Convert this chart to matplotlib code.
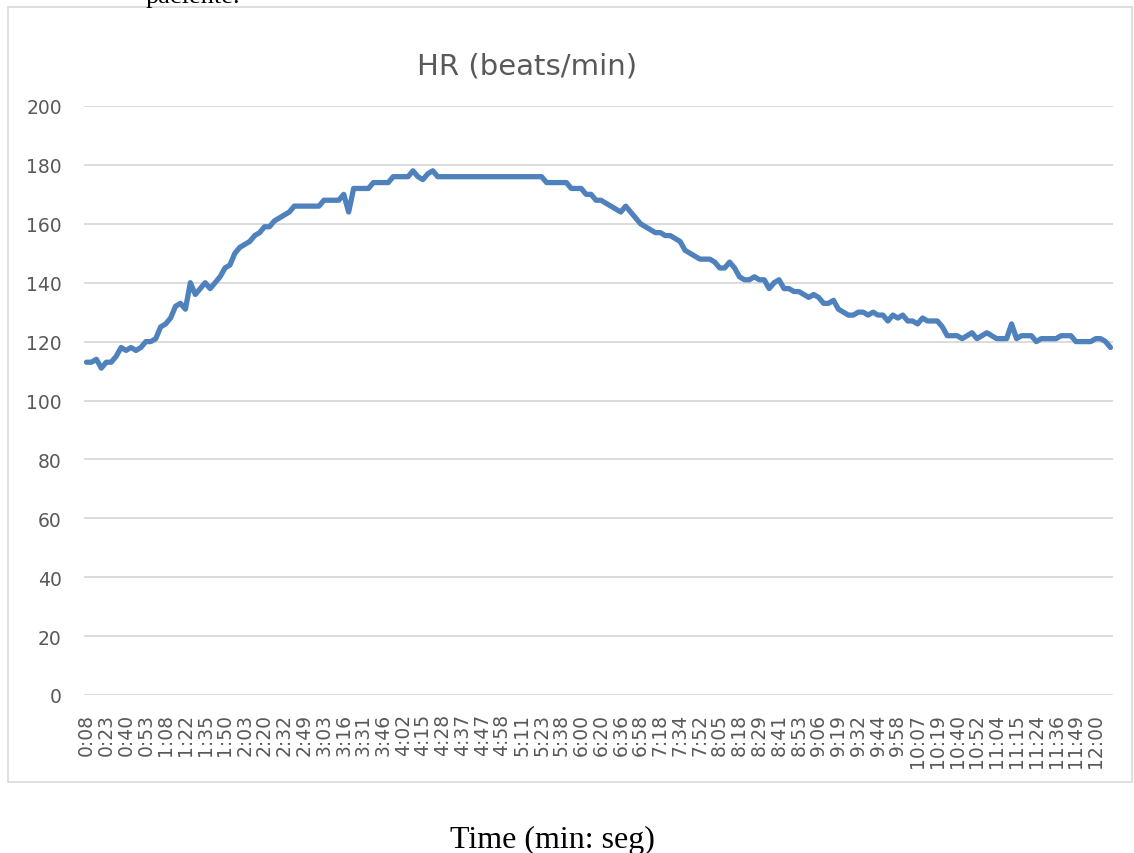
import matplotlib
matplotlib.use('Agg')
import matplotlib.pyplot as plt
from matplotlib.patches import Rectangle

# heart rate, one value per sample
hr_values = [
    113, 113, 114, 111, 113, 113, 115, 118, 117, 118, 117, 118,
    120, 120, 121, 125, 126, 128, 132, 133, 131, 140, 136, 138,
    140, 138, 140, 142, 145, 146, 150, 152, 153, 154, 156, 157,
    159, 159, 161, 162, 163, 164, 166, 166, 166, 166, 166, 166,
    168, 168, 168, 168, 170, 164, 172, 172, 172, 172, 174, 174,
    174, 174, 176, 176, 176, 176, 178, 176, 175, 177, 178, 176,
    176, 176, 176, 176, 176, 176, 176, 176, 176, 176, 176, 176,
    176, 176, 176, 176, 176, 176, 176, 176, 176, 174, 174, 174,
    174, 174, 172, 172, 172, 170, 170, 168, 168, 167, 166, 165,
    164, 166, 164, 162, 160, 159, 158, 157, 157, 156, 156, 155,
    154, 151, 150, 149, 148, 148, 148, 147, 145, 145, 147, 145,
    142, 141, 141, 142, 141, 141, 138, 140, 141, 138, 138, 137,
    137, 136, 135, 136, 135, 133, 133, 134, 131, 130, 129, 129,
    130, 130, 129, 130, 129, 129, 127, 129, 128, 129, 127, 127,
    126, 128, 127, 127, 127, 125, 122, 122, 122, 121, 122, 123,
    121, 122, 123, 122, 121, 121, 121, 126, 121, 122, 122, 122,
    120, 121, 121, 121, 121, 122, 122, 122, 120, 120, 120, 120,
    121, 121, 120, 118,
]

# every 4th sample carries a visible label
time_labels = [
    '0:08', '0:23', '0:40', '0:53', '1:08', '1:22', '1:35', '1:50',
    '2:03', '2:20', '2:32', '2:49', '3:03', '3:16', '3:31', '3:46',
    '4:02', '4:15', '4:28', '4:37', '4:47', '4:58', '5:11', '5:23',
    '5:38', '6:00', '6:20', '6:36', '6:58', '7:18', '7:34', '7:52',
    '8:05', '8:18', '8:29', '8:41', '8:53', '9:06', '9:19', '9:32',
    '9:44', '9:58', '10:07', '10:19', '10:40', '10:52', '11:04', '11:15',
    '11:24', '11:36', '11:49', '12:00',
]
label_step = 4
y_ticks = [0, 20, 40, 60, 80, 100, 120, 140, 160, 180, 200]

W, H = 1134, 854
fig = plt.figure(figsize=(W / 100, H / 100), dpi=100)
fig.patch.set_facecolor('white')

# chart frame
fig.patches.append(Rectangle((8 / W, 1 - 783 / H), 1124 / W, 775 / H,
                             transform=fig.transFigure, fill=False,
                             edgecolor='#d9d9d9', linewidth=1.2))

ax = fig.add_axes([84 / W, 1 - 696 / H, (1113 - 84) / W, (696 - 107) / H])

x = list(range(len(hr_values)))
ax.plot(x, hr_values, color='#4f81bd', linewidth=3.8, solid_joinstyle='round',
        solid_capstyle='round', zorder=3)

ax.set_xlim(-0.5, len(hr_values) - 0.5)
ax.set_ylim(0, 200)
ax.set_yticks(y_ticks)
ax.set_xticks(x[::label_step][:len(time_labels)])
ax.set_xticklabels(time_labels, rotation=90)

ax.grid(axis='y', color='#d9d9d9', linewidth=1.3)
ax.set_axisbelow(True)
for s in ax.spines.values():
    s.set_visible(False)
ax.tick_params(axis='both', length=0, colors='#595959', labelsize=13.5)
ax.tick_params(axis='y', pad=16)
ax.tick_params(axis='x', pad=13)

fig.text(527 / W, 1 - 66 / H, 'HR (beats/min)', ha='center', va='center',
         fontsize=21, color='#595959')
fig.text(552 / W, 1 - 840 / H, 'Time (min: seg)', ha='center', va='center',
         fontsize=23, color='black', family='Liberation Serif')
# text of the page above the chart, cut off at the top edge
fig.text(146 / W, 1 - 3 / H, 'paciente.', ha='left', va='baseline',
         fontsize=19, color='black', family='Liberation Serif')

fig.savefig('out.png', dpi=100)
